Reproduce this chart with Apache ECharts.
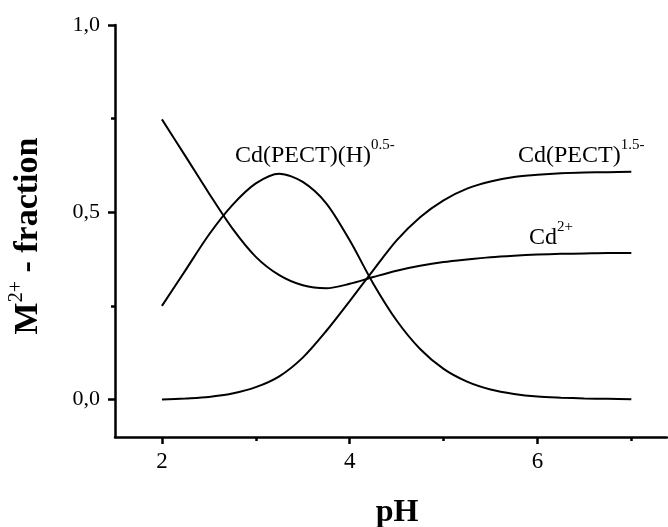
<!DOCTYPE html>
<html>
<head>
<meta charset="utf-8">
<script src="https://cdn.jsdelivr.net/npm/echarts@6/dist/echarts.min.js"></script>
<style>
html,body{margin:0;padding:0;background:#fff;}
#main{width:668px;height:527px;}
</style>
</head>
<body>
<div id="main"></div>
<script>
// pH values
var pH = [2.0, 2.25, 2.5, 2.75, 3.0, 3.25, 3.5, 3.75, 4.0, 4.25, 4.5, 4.75, 5.0, 5.25, 5.5, 5.75, 6.0, 6.25, 6.5, 6.75, 7.0];
// Cd2+ free fraction
var cdFree = [0.748, 0.650, 0.551, 0.457, 0.381, 0.332, 0.305, 0.297, 0.309, 0.327, 0.344, 0.357, 0.367, 0.374, 0.380, 0.384, 0.387, 0.389, 0.390, 0.391, 0.391];
// Cd(PECT)(H)0.5-
var cdPectH = [0.250, 0.345, 0.440, 0.519, 0.577, 0.603, 0.581, 0.524, 0.425, 0.310, 0.211, 0.135, 0.082, 0.048, 0.027, 0.015, 0.008, 0.005, 0.003, 0.002, 0.001];
// Cd(PECT)1.5-
var cdPect = [0.000, 0.003, 0.007, 0.016, 0.033, 0.062, 0.112, 0.183, 0.263, 0.345, 0.425, 0.487, 0.532, 0.563, 0.582, 0.594, 0.600, 0.604, 0.606, 0.607, 0.608];
// ticks
var xMajor = [2, 4, 6];
var xMinor = [3, 5, 7];
var yMajor = [0, 0.5, 1.0];
var yMinor = [0.25, 0.75];

function pairs(ys){ return pH.map(function(x,i){ return [x, ys[i]]; }); }

var FONT = 'Liberation Serif';
var chart = echarts.init(document.getElementById('main'));
var lineStyle = {color:'#000', width:2};
function mkSeries(ys){
  return {type:'line', data:pairs(ys), smooth:0.3, symbol:'none', lineStyle:lineStyle, xAxisIndex:0, yAxisIndex:0, animation:false};
}
chart.setOption({
  animation:false,
  grid:{left:115, right:1, top:25, bottom:90, containLabel:false},
  xAxis:[{
    type:'value', min:1.5, max:7.38, position:'bottom',
    axisLine:{show:true, onZero:false, lineStyle:{color:'#000', width:2.5}},
    axisTick:{show:true, inside:false, customValues:xMajor, length:7, lineStyle:{color:'#000', width:2.5}},
    axisLabel:{show:true, customValues:xMajor, margin:13, fontFamily:FONT, fontSize:23, color:'#000'},
    splitLine:{show:false}
  },{
    type:'value', min:1.5, max:7.38, position:'bottom',
    axisLine:{show:false, onZero:false},
    axisTick:{show:true, inside:false, customValues:xMinor, length:4, lineStyle:{color:'#000', width:2.5}},
    axisLabel:{show:false},
    splitLine:{show:false}
  }],
  yAxis:[{
    type:'value', min:-0.1, max:1.0, position:'left',
    axisLine:{show:true, onZero:false, lineStyle:{color:'#000', width:2.5}},
    axisTick:{show:true, inside:false, customValues:yMajor, length:7, lineStyle:{color:'#000', width:2.5}},
    axisLabel:{show:true, customValues:yMajor, margin:15, fontFamily:FONT, fontSize:22, color:'#000',
      formatter:function(v){ return v.toFixed(1).replace('.', ','); }},
    splitLine:{show:false}
  },{
    type:'value', min:-0.1, max:1.0, position:'left', offset:0,
    axisLine:{show:false, onZero:false},
    axisTick:{show:true, inside:false, customValues:yMinor, length:4, lineStyle:{color:'#000', width:2.5}},
    axisLabel:{show:false},
    splitLine:{show:false}
  }],
  series:[mkSeries(cdFree), mkSeries(cdPectH), mkSeries(cdPect)],
  graphic:[
    {type:'text', left:235, top:138, style:{text:'{a|Cd(PECT)(H)}{s|0.5-}', rich:{
      a:{fontFamily:FONT, fontSize:24, lineHeight:30, verticalAlign:'bottom', fill:'#000'},
      s:{fontFamily:FONT, fontSize:15, lineHeight:15, verticalAlign:'top', fill:'#000'}}}},
    {type:'text', left:518, top:138, style:{text:'{a|Cd(PECT)}{s|1.5-}', rich:{
      a:{fontFamily:FONT, fontSize:24, lineHeight:30, verticalAlign:'bottom', fill:'#000'},
      s:{fontFamily:FONT, fontSize:15, lineHeight:15, verticalAlign:'top', fill:'#000'}}}},
    {type:'text', left:529, top:220, style:{text:'{a|Cd}{s|2+}', rich:{
      a:{fontFamily:FONT, fontSize:24, lineHeight:30, verticalAlign:'bottom', fill:'#000'},
      s:{fontFamily:FONT, fontSize:15, lineHeight:15, verticalAlign:'top', fill:'#000'}}}},
    {type:'text', x:26, y:236, rotation:Math.PI/2, style:{text:'{a|M}{s|2+}{a| - fraction}', align:'center', verticalAlign:'middle', rich:{
      a:{fontFamily:FONT, fontSize:34, fontWeight:'bold', lineHeight:38, verticalAlign:'bottom', fill:'#000'},
      s:{fontFamily:FONT, fontSize:20, lineHeight:20, verticalAlign:'top', fill:'#000'}}}},
    {type:'text', x:397, y:513, style:{text:'pH', align:'center', verticalAlign:'middle', fontFamily:FONT, fontSize:32, fontWeight:'bold', fill:'#000'}}
  ]
});
</script>
</body>
</html>
